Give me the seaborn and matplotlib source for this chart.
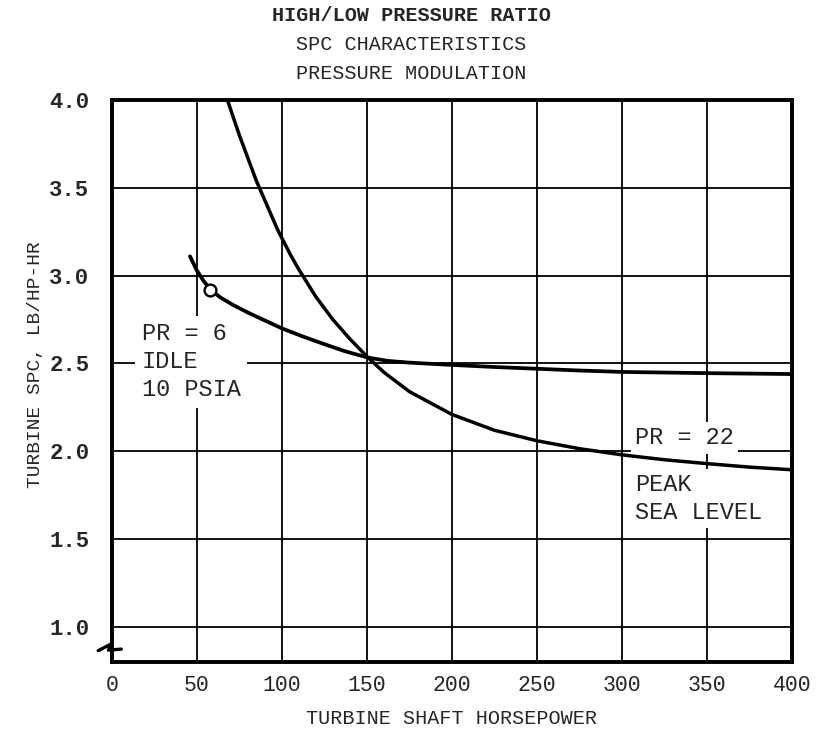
import pandas as pd
import seaborn as sns
import matplotlib.pyplot as plt

# values
idle_hp = [46, 50, 54, 58, 64, 71, 80, 90, 100, 112, 125, 137, 150, 162, 175,
           190, 200, 225, 250, 275, 300, 350, 400]
idle_spc = [3.11, 3.03, 2.97, 2.92, 2.875, 2.835, 2.79, 2.745, 2.70, 2.655, 2.61,
            2.57, 2.535, 2.515, 2.505, 2.497, 2.492, 2.48, 2.47, 2.46, 2.452,
            2.445, 2.44]

peak_hp = [68, 75, 85, 97.6, 105, 110, 120, 130, 140, 150, 160, 175, 200, 225,
           250, 275, 300, 325, 350, 375, 400]
peak_spc = [4.0, 3.80, 3.54, 3.26, 3.12, 3.035, 2.88, 2.75, 2.64, 2.54, 2.45,
            2.34, 2.21, 2.12, 2.06, 2.015, 1.98, 1.952, 1.93, 1.91, 1.895]

marker_hp = [58]
marker_spc = [2.92]

x_ticks = [0, 50, 100, 150, 200, 250, 300, 350, 400]
y_ticks = [1.0, 1.5, 2.0, 2.5, 3.0, 3.5, 4.0]

title_lines = ["HIGH/LOW PRESSURE RATIO", "SPC CHARACTERISTICS", "PRESSURE MODULATION"]

sns.set_theme(style='white')
plt.rcParams['font.family'] = ['Liberation Mono', 'DejaVu Sans']

df_idle = pd.DataFrame({'hp': idle_hp, 'spc': idle_spc})
df_peak = pd.DataFrame({'hp': peak_hp, 'spc': peak_spc})

fig = plt.figure(figsize=(8.22, 7.30), dpi=100)
ax = fig.add_axes([0.136, 0.093, 0.8275, 0.77])

sns.lineplot(data=df_idle, x='hp', y='spc', color='black', linewidth=2.7, sort=False, ax=ax, zorder=5)
sns.lineplot(data=df_peak, x='hp', y='spc', color='black', linewidth=2.5, sort=False, ax=ax, zorder=5)
ax.plot(marker_hp, marker_spc, 'o', ms=8.5, mfc='white', mec='black', mew=1.7, zorder=6)

ax.set_xlim(0, 400)
ax.set_ylim(0.8, 4.0)
ax.set_xticks(x_ticks)
ax.set_yticks(y_ticks)
ax.set_xticklabels([str(v) for v in x_ticks], fontsize=15.5)
ax.set_yticklabels([f'{v:.1f}' for v in y_ticks], fontsize=16, fontweight='bold')
ax.tick_params(axis='x', length=0, pad=9)
ax.tick_params(axis='y', length=0, pad=16)
ax.grid(True, color='black', linewidth=1.3)
ax.set_axisbelow(True)
for s in ax.spines.values():
    s.set_color('black')
    s.set_linewidth(2.8)

ax.set_xlabel('TURBINE SHAFT HORSEPOWER', fontsize=14.5)
ax.xaxis.set_label_coords(0.5, -0.084)
ax.set_ylabel('TURBINE SPC, LB/HP-HR', fontsize=14)
ax.yaxis.set_label_coords(-0.1, 0.53)

for i, line in enumerate(title_lines):
    fig.text(0.5, 0.979 - i * 0.04, line, ha='center', va='center', fontsize=14.5,
             fontweight='bold' if i == 0 else 'normal')

box = dict(facecolor='white', edgecolor='none', pad=5)
ax.text(17.6, 2.51, 'PR = 6\nIDLE\n10 PSIA', fontsize=17, va='center', ha='left',
        linespacing=1.27, bbox=box, zorder=3)
ax.text(307.6, 2.076, 'PR = 22', fontsize=17, va='center', ha='left',
        bbox=dict(facecolor='white', edgecolor='none', pad=3), zorder=3)
ax.text(307.6, 1.73, 'PEAK\nSEA LEVEL', fontsize=17, va='center', ha='left',
        linespacing=1.27, bbox=dict(facecolor='white', edgecolor='none', pad=3), zorder=3)

# axis break mark on the left spine
brk = ax.get_yaxis_transform()
ax.plot([-0.02, 0.0, -0.005, 0.014], [0.865, 0.905, 0.868, 0.874],
        color='black', lw=2.4, transform=brk, clip_on=False, zorder=7)

fig.savefig('out.png', dpi=100)
